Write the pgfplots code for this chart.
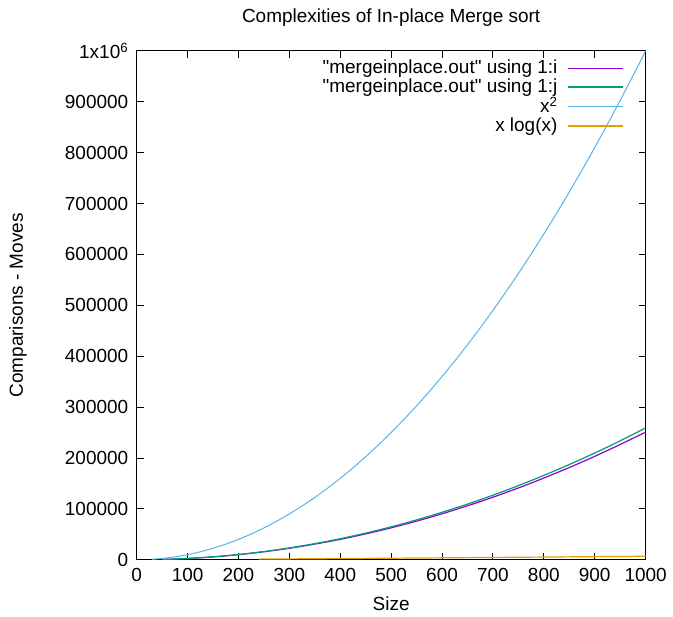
\documentclass[border=0pt]{standalone}
\usepackage{pgfplots}
\pgfplotsset{compat=1.18}
\usepackage{fontspec}
\setmainfont{Liberation Sans}[Ligatures=TeXOff]
\definecolor{gpurple}{HTML}{9400D3}
\definecolor{ggreen}{HTML}{009E73}
\definecolor{gblue}{HTML}{56B4E9}
\definecolor{gorange}{HTML}{E69F00}
\begin{document}
\fontsize{19}{21}\selectfont
\begin{tikzpicture}
\begin{axis}[
  scale only axis,
  width=510pt, height=510pt,
  xmin=0, xmax=1000, ymin=0, ymax=1000000,
  xtick={0,100,...,1000},
  ytick={0,100000,200000,300000,400000,500000,600000,700000,800000,900000,1000000},
  yticklabels={0,100000,200000,300000,400000,500000,600000,700000,800000,900000,1x10\textsuperscript{6}},
  scaled ticks=false,
  /pgf/number format/assume math mode=true,
  /pgf/number format/1000 sep={},
  tick label style={font=\fontsize{19}{21}\selectfont},
  xticklabel style={yshift=-2pt},
  yticklabel style={xshift=-2pt},
  every axis title/.style={at={(axis description cs:0.5,1)}, yshift=33pt, anchor=center, font=\fontsize{19}{21}\selectfont},
  every axis x label/.style={at={(axis description cs:0.5,0)}, yshift=-44pt, anchor=center, font=\fontsize{19}{21}\selectfont},
  every axis y label/.style={at={(axis description cs:0,0.5)}, xshift=-119pt, rotate=90, anchor=center, font=\fontsize{19}{21}\selectfont},
  title={Complexities of In-place Merge sort},
  xlabel={Size},
  ylabel={Comparisons - Moves},
  tick align=inside,
  major tick length=7pt,
  axis line style={line width=1pt},
  every tick/.style={line width=0.9pt, black},
  legend style={draw=none, fill=none, at={(axis description cs:0.963,0.986)}, anchor=north east,
    font=\fontsize{19}{21}\selectfont, row sep=2pt, column sep=10pt,
    nodes={inner sep=0pt}},
  legend cell align=right,
  legend plot pos=right,
  legend image code/.code={\draw[#1, line width=1.3pt] (0pt,0pt) -- (55pt,0pt);},
]
\addplot[gpurple, line width=1.2pt] coordinates {
(50,640) (75,1390) (100,2530) (125,3900) (150,5640) (175,7700) (200,10020) (225,12730) (250,15700)
(275,18980) (300,22560) (325,26530) (350,30770) (375,35310) (400,40130)
(425,45330) (450,50850) (475,56610) (500,62700) (525,69190) (550,75950) (575,82960) (600,90300)
(625,98060) (650,106100) (675,114400) (700,122900) (725,131950) (750,141100) (775,150700) (800,160500)
(825,170900) (850,181200) (875,192100) (900,203200) (925,214800) (950,226400) (975,238600) (1000,250800)
};
\addlegendentry{"mergeinplace.out" using 1:i}
\addplot[ggreen, line width=1.2pt] coordinates {
(50,660) (75,1450) (100,2600) (125,4050) (150,5830) (175,7940) (200,10370) (225,13120) (250,16200)
(275,19600) (300,23320) (325,27380) (350,31740) (375,36430) (400,41450)
(425,46790) (450,52460) (475,58440) (500,64760) (525,71400) (550,78360) (575,85640) (600,93250)
(625,101200) (650,109450) (675,118000) (700,126900) (725,136150) (750,145700) (775,155600) (800,165800)
(825,176300) (850,187100) (875,198300) (900,209800) (925,221600) (950,233800) (975,246300) (1000,259200)
};
\addlegendentry{"mergeinplace.out" using 1:j}
\addplot[gblue, line width=1pt] coordinates {
(30,900) (50,2500) (75,5625) (100,10000) (125,15625) (150,22500) (175,30625) (200,40000) (225,50625)
(250,62500) (275,75625) (300,90000) (325,105625) (350,122500) (375,140625) (400,160000)
(425,180625) (450,202500) (475,225625) (500,250000) (525,275625) (550,302500) (575,330625)
(600,360000) (625,390625) (650,422500) (675,455625) (700,490000) (725,525625) (750,562500)
(775,600625) (800,640000) (825,680625) (850,722500) (875,765625) (900,810000) (925,855625)
(950,902500) (975,950625) (1000,1000000)
};
\addlegendentry{x\textsuperscript{2}}
\addplot[gorange, line width=1.2pt] coordinates {
(240,1315) (300,1711) (400,2397) (500,3107) (600,3838) (700,4586) (800,5348) (900,6122) (1000,6908)
};
\addlegendentry{x log(x)}
\end{axis}
\useasboundingbox (current axis.south west) ++(-137pt,-57pt) rectangle ++(673pt,618pt);
\end{tikzpicture}
\end{document}
